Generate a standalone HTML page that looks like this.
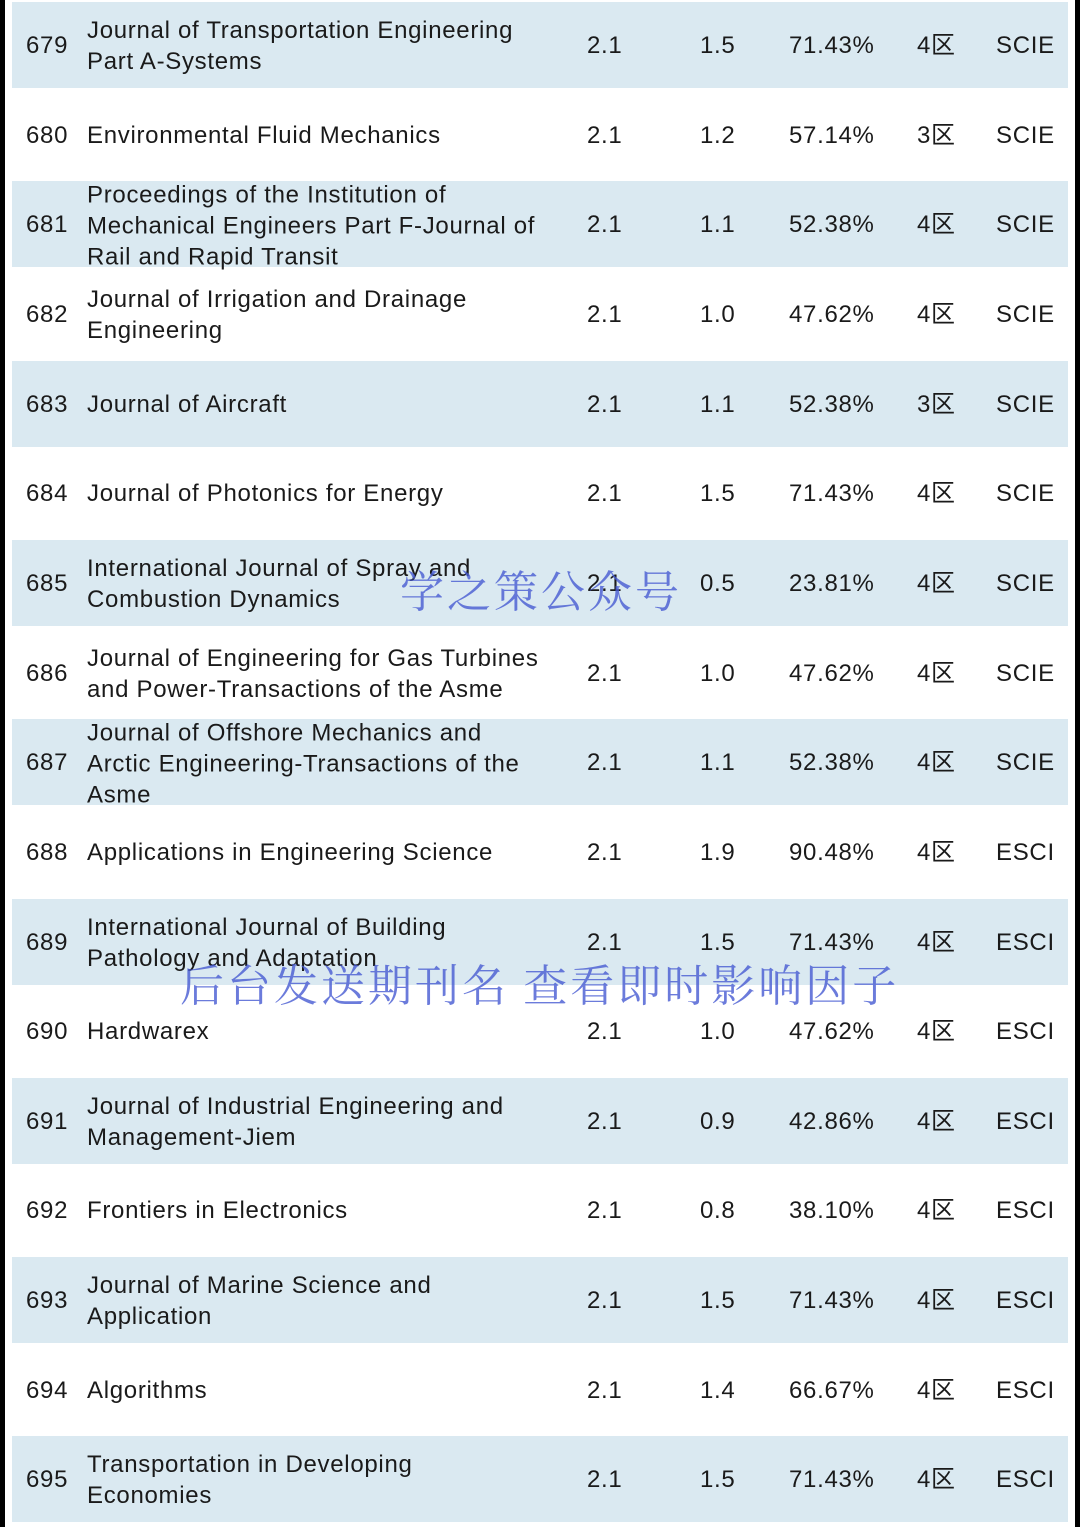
<!DOCTYPE html>
<html><head><meta charset="utf-8"><style>
body{margin:0;width:1080px;height:1527px;position:relative;background:#fff;overflow:hidden;font-family:"Liberation Sans","Noto Sans CJK SC",sans-serif;color:#1a1a1a}
.edge{position:absolute;top:0;height:1527px;width:5px;background:#000}
.row{position:absolute;left:12px;width:1056px;height:86px}
.blue{background:#dae9f1}
.c{position:absolute;font-size:24px;line-height:31px;white-space:nowrap;top:50%;transform:translateY(-48%);letter-spacing:0.7px}
.wm{position:absolute;font-family:"Noto Serif CJK SC","Liberation Serif",serif;color:rgba(70,90,210,0.8);font-size:44px;white-space:nowrap}
</style></head><body>
<div class="edge" style="left:0"></div>
<div class="edge" style="left:1075px"></div>
<div id="t"></div>
<div class="wm" style="left:400px;top:556px;letter-spacing:3px">学之策公众号</div>
<div class="wm" style="left:180px;top:950px;letter-spacing:3px">后台发送期刊名 查看即时影响因子</div>
<script>
const nums=[679,680,681,682,683,684,685,686,687,688,689,690,691,692,693,694,695];
const titles=["Journal of Transportation Engineering<br>Part A-Systems","Environmental Fluid Mechanics","Proceedings of the Institution of<br>Mechanical Engineers Part F-Journal of<br>Rail and Rapid Transit","Journal of Irrigation and Drainage<br>Engineering","Journal of Aircraft","Journal of Photonics for Energy","International Journal of Spray and<br>Combustion Dynamics","Journal of Engineering for Gas Turbines<br>and Power-Transactions of the Asme","Journal of Offshore Mechanics and<br>Arctic Engineering-Transactions of the<br>Asme","Applications in Engineering Science","International Journal of Building<br>Pathology and Adaptation","Hardwarex","Journal of Industrial Engineering and<br>Management-Jiem","Frontiers in Electronics","Journal of Marine Science and<br>Application","Algorithms","Transportation in Developing<br>Economies"];
const ifs=["2.1","2.1","2.1","2.1","2.1","2.1","2.1","2.1","2.1","2.1","2.1","2.1","2.1","2.1","2.1","2.1","2.1"];
const ifs2=["1.5","1.2","1.1","1.0","1.1","1.5","0.5","1.0","1.1","1.9","1.5","1.0","0.9","0.8","1.5","1.4","1.5"];
const pcts=["71.43%","57.14%","52.38%","47.62%","52.38%","71.43%","23.81%","47.62%","52.38%","90.48%","71.43%","47.62%","42.86%","38.10%","71.43%","66.67%","71.43%"];
const zones=["4区","3区","4区","4区","3区","4区","4区","4区","4区","4区","4区","4区","4区","4区","4区","4区","4区"];
const idx=["SCIE","SCIE","SCIE","SCIE","SCIE","SCIE","SCIE","SCIE","SCIE","ESCI","ESCI","ESCI","ESCI","ESCI","ESCI","ESCI","ESCI"];
const t=document.getElementById('t');
const H=89.65;
nums.forEach((n,i)=>{
  const r=document.createElement('div');
  r.className='row'+(i%2===0?' blue':'');
  
  
  r.style.top=(i*H+2)+'px';
  const cols=[[14,n,'rank'],[75,titles[i],'journal-title'],[575,ifs[i],'impact-factor'],[688,ifs2[i],'five-year-if'],[777,pcts[i],'percentile'],[905,zones[i],'zone'],[984,idx[i],'index']];
  cols.forEach(c=>{
    const d=document.createElement('div');
    d.className='c';
    
    
    d.style.left=c[0]+'px';
    d.innerHTML=c[1];
    r.appendChild(d);
  });
  t.appendChild(r);
});
</script>
</body></html>
